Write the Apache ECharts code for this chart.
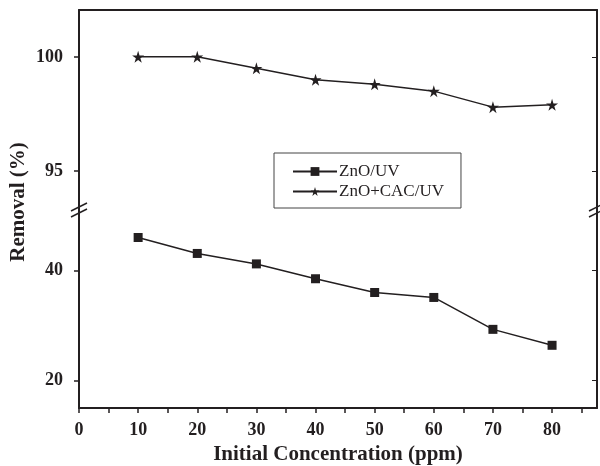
<!DOCTYPE html>
<html>
<head>
<meta charset="utf-8">
<script src="https://cdn.jsdelivr.net/npm/echarts@6/dist/echarts.min.js"></script>
<style>
  html, body { margin: 0; padding: 0; background: #fff; }
  #chart { width: 600px; height: 466px; }
</style>
</head>
<body>
<div id="chart"></div>
<script>
// initial concentration (ppm)
var conc = [10, 20, 30, 40, 50, 60, 70, 80];
// removal (%)
var znoUv = [46.0, 43.1, 41.2, 38.5, 36.0, 35.1, 29.3, 26.4];
var znoCacUv = [100.0, 100.0, 99.5, 99.0, 98.8, 98.5, 97.8, 97.9];
var xLabels = [0, 10, 20, 30, 40, 50, 60, 70, 80];
var xTicks = [0, 5, 10, 15, 20, 25, 30, 35, 40, 45, 50, 55, 60, 65, 70, 75, 80, 85];
var upperTicks = [95, 100];
var lowerTicks = [20, 40];

var serif = "'Liberation Serif', 'Times New Roman', serif";
var ink = '#231f20';

function pairs(ys) {
    return conc.map(function (c, i) { return [c, ys[i]]; });
}

var starPath = 'path://M50,0 L61,35 L98,35 L68,57 L79,91 L50,70 L21,91 L32,57 L2,35 L39,35 Z';

var mcharts = echarts.init(document.getElementById('chart'));

var lineStyleAxis = { color: ink, width: 2 };

function yAxisLeft(grid, min, max, ticks) {
    return {
        type: 'value', gridIndex: grid, min: min, max: max, position: 'left',
        axisLine: { show: true, lineStyle: lineStyleAxis },
        axisTick: { show: true, inside: false, length: 5, customValues: ticks, lineStyle: { color: ink, width: 1.5 } },
        axisLabel: { customValues: ticks, color: ink, fontFamily: serif, fontWeight: 'bold', fontSize: 18, margin: 16 },
        splitLine: { show: false }
    };
}
function yAxisRight(grid, min, max, ticks) {
    return {
        type: 'value', gridIndex: grid, min: min, max: max, position: 'right',
        axisLine: { show: true, lineStyle: lineStyleAxis },
        axisTick: { show: true, inside: true, length: 5, customValues: ticks, lineStyle: { color: ink, width: 1 } },
        axisLabel: { show: false },
        splitLine: { show: false }
    };
}

option = {
    animation: false,
    backgroundColor: '#fff',
    grid: [
        { left: 79, right: 3, top: 10, height: 200 },
        { left: 79, right: 3, top: 210, bottom: 57 }
    ],
    legend: {
        orient: 'vertical',
        left: 274,
        top: 153,
        padding: [10, 17, 8, 18],
        itemGap: 3,
        itemWidth: 44,
        itemHeight: 11,
        borderColor: '#444',
        borderWidth: 1,
        textStyle: { fontFamily: serif, fontSize: 17, color: ink, padding: [0, 0, 0, -3] },
        data: ['ZnO/UV', 'ZnO+CAC/UV']
    },
    xAxis: [
        {
            type: 'value', gridIndex: 0, min: 0, max: 87.6, position: 'top',
            axisLine: { show: true, lineStyle: lineStyleAxis },
            axisTick: { show: false },
            axisLabel: { show: false },
            splitLine: { show: false }
        },
        {
            type: 'value', gridIndex: 1, min: 0, max: 87.6, position: 'bottom',
            axisLine: { show: true, lineStyle: lineStyleAxis },
            axisTick: { show: true, inside: false, length: 5, customValues: xTicks, lineStyle: { color: ink, width: 1.5 } },
            axisLabel: { customValues: xLabels, color: ink, fontFamily: serif, fontWeight: 'bold', fontSize: 18, margin: 13 },
            splitLine: { show: false },
            name: 'Initial Concentration (ppm)',
            nameLocation: 'middle',
            nameGap: 36,
            nameTextStyle: { fontFamily: serif, fontWeight: 'bold', fontSize: 21, color: ink }
        }
    ],
    yAxis: [
        yAxisLeft(0, 93.3, 102.05, upperTicks),
        yAxisRight(0, 93.3, 102.05, upperTicks),
        yAxisLeft(1, 15, 51, lowerTicks),
        yAxisRight(1, 15, 51, lowerTicks)
    ],
    series: [
        {
            name: 'ZnO/UV',
            type: 'line',
            xAxisIndex: 1,
            yAxisIndex: 2,
            data: pairs(znoUv),
            symbol: 'rect',
            symbolSize: 9,
            itemStyle: { color: ink },
            lineStyle: { color: ink, width: 1.5 }
        },
        {
            name: 'ZnO+CAC/UV',
            type: 'line',
            xAxisIndex: 0,
            yAxisIndex: 0,
            data: pairs(znoCacUv),
            symbol: starPath,
            symbolSize: 12,
            itemStyle: { color: ink },
            lineStyle: { color: ink, width: 1.5 }
        }
    ]
};

mcharts.setOption(option);

// axis break marks and y-axis title
var brk = mcharts.convertToPixel({ gridIndex: 1 }, [0, 51]);
var brkR = mcharts.convertToPixel({ gridIndex: 1 }, [87.6, 51]);
function breakMarks(x, y) {
    return [-3, 3].map(function (d) {
        return {
            type: 'line',
            shape: { x1: x - 8, y1: y + d + 4, x2: x + 8, y2: y + d - 4 },
            style: { stroke: ink, lineWidth: 1.5 }
        };
    });
}
mcharts.setOption({
    graphic: breakMarks(brk[0], brk[1]).concat(breakMarks(brkR[0], brkR[1])).concat([
        {
            type: 'text',
            x: 19,
            y: 202,
            rotation: Math.PI / 2,
            style: {
                text: 'Removal (%)',
                font: 'bold 21px ' + serif,
                fill: ink,
                align: 'center',
                verticalAlign: 'middle'
            }
        }
    ])
});
</script>
</body>
</html>
